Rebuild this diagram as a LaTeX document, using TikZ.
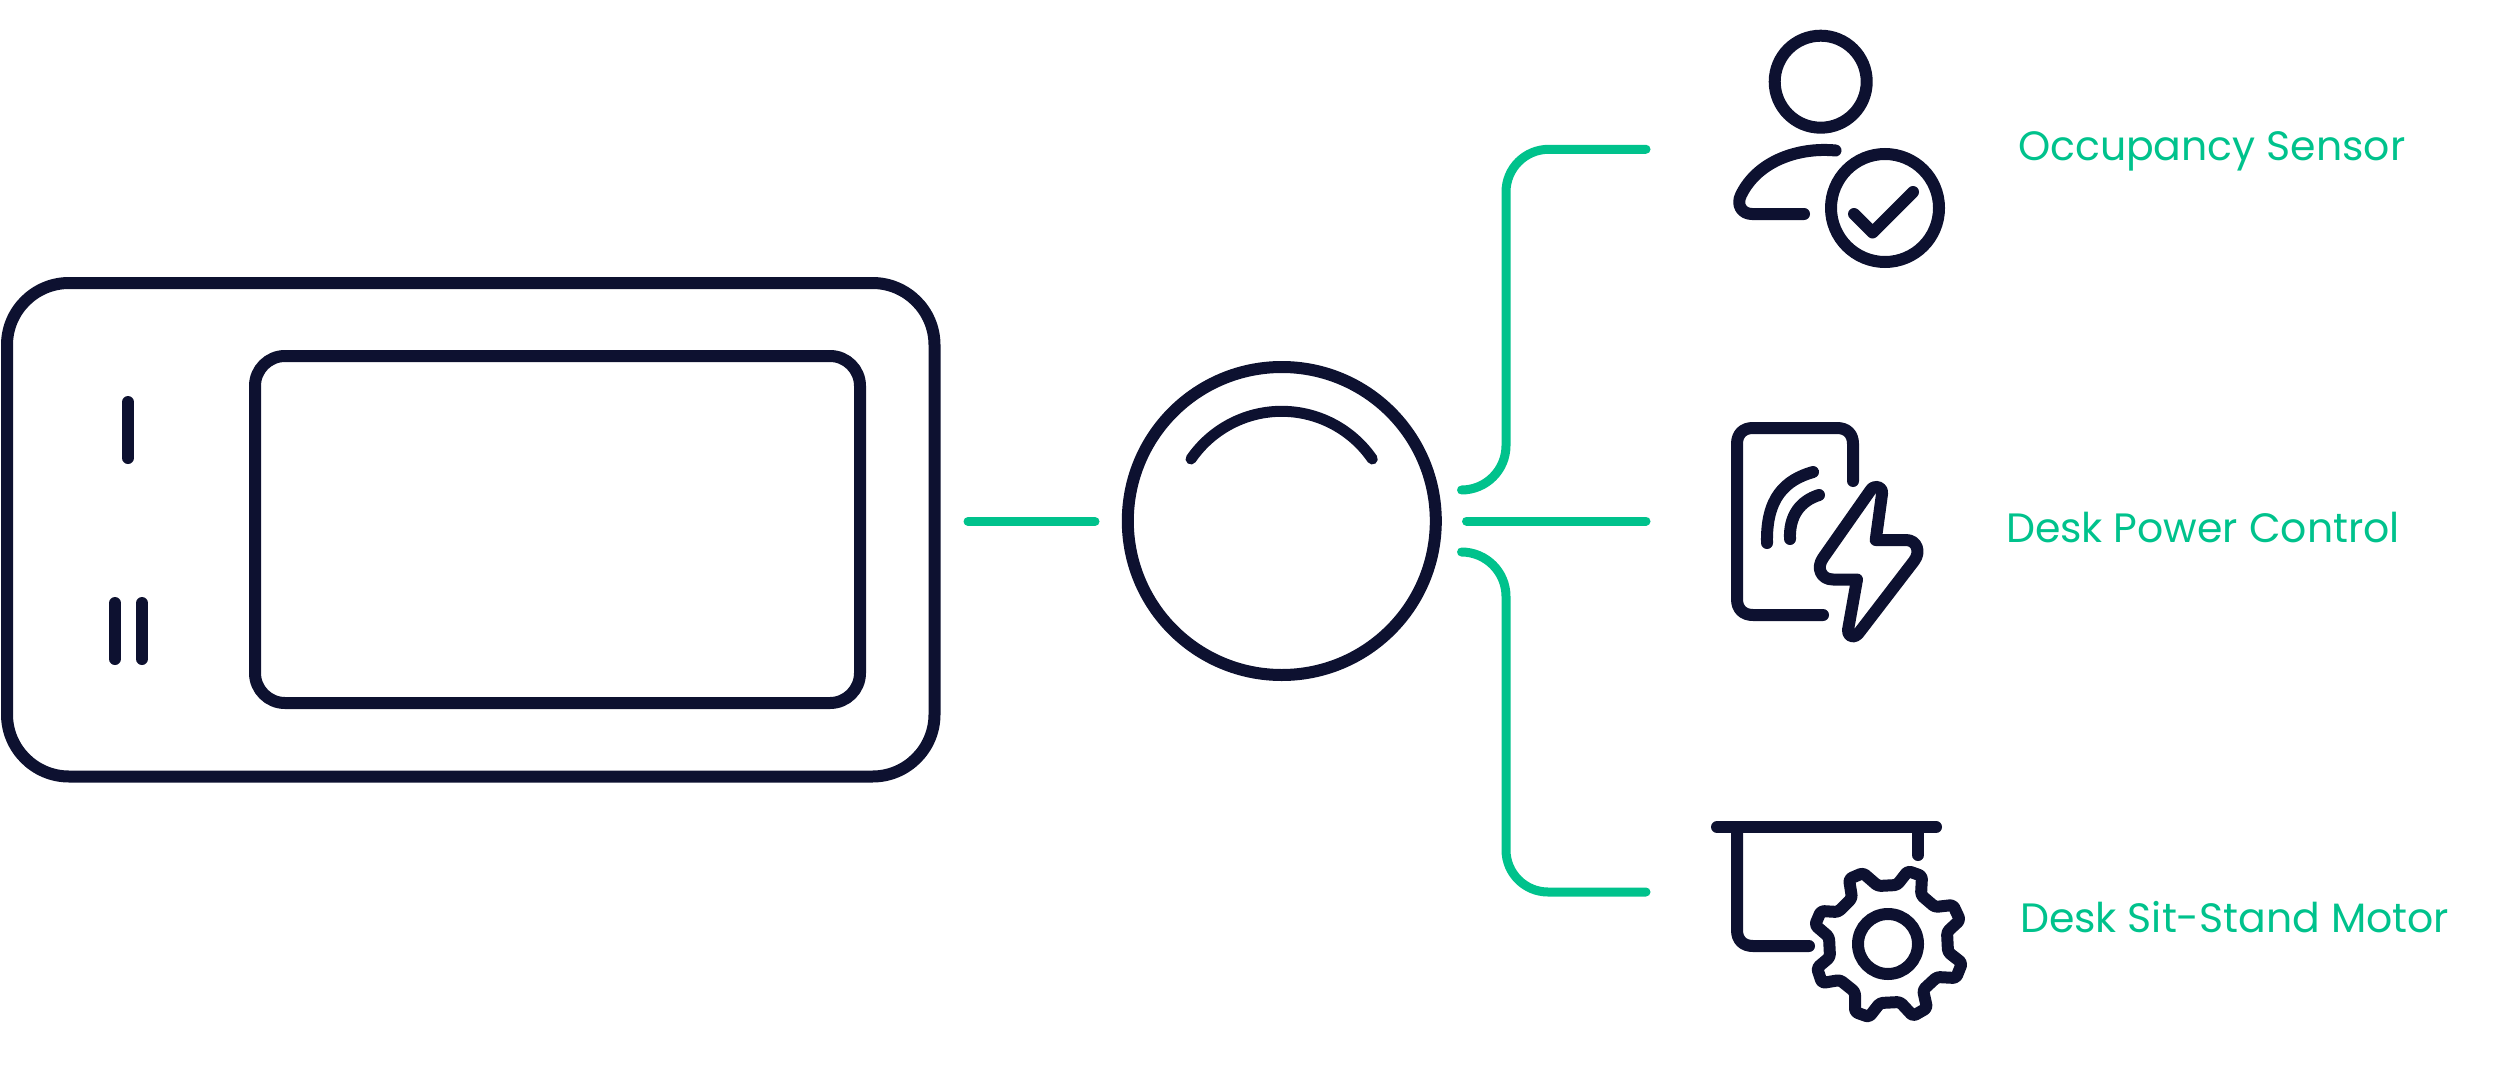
\documentclass[tikz,border=0pt]{standalone}
\usepackage{fontspec}
\setmainfont{Poppins}
\definecolor{ink}{HTML}{0D1130}
\definecolor{leaf}{HTML}{00C28C}
\tikzset{
  icon/.style={draw=ink,line width=12pt,line cap=round,line join=round},
  link/.style={draw=leaf,line width=9pt,line cap=round,line join=round},
  panel/.style={draw=ink,line width=12pt,rectangle,inner sep=0pt,outer sep=0pt},
  dial/.style={draw=ink,line width=12pt,circle,inner sep=0pt,outer sep=0pt},
  lbl/.style={text=leaf,font=\fontsize{41pt}{50pt}\selectfont,anchor=base west,inner sep=0pt,outer sep=0pt}
}
\begin{document}
\begin{tikzpicture}[x=1pt,y=-1pt]
\useasboundingbox (0,0) rectangle (2500,1065);
% device
\node[panel,rounded corners=62pt,minimum width=927.5pt,minimum height=493.5pt] (device) at (470.75,529.75) {};
\node[panel,rounded corners=30pt,minimum width=605pt,minimum height=347pt] (screen) at (557.5,529.5) {};
\draw[icon] (128,402) -- (128,458);
\draw[icon] (115,603) -- (115,659);
\draw[icon] (142,603) -- (142,659);
% dial
\node[dial,minimum size=308pt] (dial) at (1281.8,521) {};
\draw[icon,line width=11pt] (1191,459) arc[start angle=-145.5,end angle=-34.5,radius=110];
% coordinates
\coordinate (linkA) at (968,521.5);
\coordinate (linkB) at (1095,521.5);
\coordinate (oS) at (1461.5,490);
\coordinate (oE) at (1646,149.3);
\coordinate (pS) at (1466.5,521);
\coordinate (pE) at (1646,521);
\coordinate (mS) at (1461.5,552);
\coordinate (mE) at (1646,892);
\draw[link] (linkA) -- (linkB);
\draw[link] (oS) arc[start angle=90,end angle=0,radius=44.5] -- (1506,192) arc[start angle=180,end angle=270,radius=42.7] -- (oE);
\draw[link] (pS) -- (pE);
\draw[link] (mS) arc[start angle=-90,end angle=0,radius=44.5] -- (1506,850) arc[start angle=180,end angle=90,radius=42] -- (mE);
% person icon
\node[dial,minimum size=92pt] (head) at (1820.7,81.7) {};
\node[dial,minimum size=108pt] (badge) at (1885,208) {};
\draw[icon] (1835.5,150.5) .. controls (1800,147) and (1758,160) .. (1741,195) .. controls (1736,205) and (1742,214) .. (1752,214) -- (1804,214);
\draw[icon] (1854,214) -- (1872.5,232.5) -- (1913,192);
% power icon
\draw[icon] (1853,481) -- (1853,444) .. controls (1853,434) and (1847,428) .. (1837,428) -- (1753,428) .. controls (1743,428) and (1737,434) .. (1737,444) -- (1737,599) .. controls (1737,609) and (1743,615) .. (1753,615) -- (1823,615);
\draw[icon] (1813,472) .. controls (1785,480) and (1766,498) .. (1767,543);
\draw[icon] (1819,495) .. controls (1800,501) and (1789,516) .. (1790,539);
\draw[icon] (1875.7,540) -- (1906,540) .. controls (1917,540) and (1921,552) .. (1914,561) -- (1858,634) .. controls (1854,639) and (1847,636) .. (1848,630) -- (1857,579.5) -- (1833,579.5) .. controls (1821,579.5) and (1816,568) .. (1823,558) -- (1870,491) .. controls (1874,484) and (1883,486) .. (1882,494) -- cycle;
% motor icon
\draw[icon] (1717,827) -- (1936,827);
\draw[icon] (1918,827) -- (1918,855);
\draw[icon] (1737,827) -- (1737,930) .. controls (1737,940) and (1743,946) .. (1753,946) -- (1809,946);
\node[dial,minimum size=60pt] (hub) at (1888,944) {};
\draw[icon,rounded corners=3pt] (1878,886) -- (1897,885) -- (1908,871) -- (1922,876) -- (1921,895) -- (1935,907) -- (1953,905) -- (1960,920) -- (1947,932) -- (1948,952) -- (1962,963) -- (1956,978) -- (1937,977) -- (1923,990) -- (1927,1008) -- (1913,1016) -- (1900,1002) -- (1880,1003) -- (1869,1017) -- (1855,1012) -- (1855,992) -- (1840,980) -- (1822,983) -- (1817,968) -- (1830,957) -- (1829,937) -- (1815,925) -- (1821,911) -- (1838,912) -- (1852,898) -- (1849,879) -- (1863,873) -- cycle;
% labels
\node[lbl] (occ) at (2018,160) {Occupancy Sensor};
\node[lbl] (pow) at (2006,542) {Desk Power Control};
\node[lbl] (mot) at (2020,932) {Desk Sit-Stand Motor};
\end{tikzpicture}
\end{document}
